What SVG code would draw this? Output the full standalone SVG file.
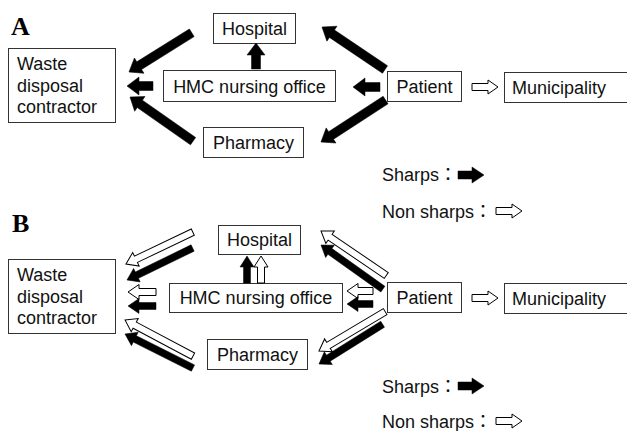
<svg xmlns="http://www.w3.org/2000/svg" width="627" height="431" viewBox="0 0 627 431">
<style>
.box{fill:#fff;stroke:#333;stroke-width:1}
.t{font-family:"Liberation Sans",Arial,"Noto Sans CJK JP",sans-serif;font-size:18px;fill:#111}
.c{text-anchor:middle}
.big{font-family:"Liberation Serif","Times New Roman",serif;font-weight:bold;font-size:26px;fill:#000}
.blk{fill:#000;stroke:#000;stroke-width:0.5}
.hol{fill:#fff;stroke:#000;stroke-width:1}
</style>
<text class="big" x="11" y="35">A</text>
<text class="big" x="12" y="232">B</text>

<g id="waste-A"><rect class="box" x="8.5" y="48.5" width="107" height="74"/><text class="t" x="17" y="70">Waste</text><text class="t" x="17" y="92">disposal</text><text class="t" x="17" y="113">contractor</text></g>
<g id="hospital-A"><rect class="box" x="213.5" y="13.5" width="82" height="30"/><text class="t c" x="254.5" y="35">Hospital</text></g>
<g id="hmc-A"><rect class="box" x="163.5" y="70.5" width="172" height="31"/><text class="t c" x="249.5" y="93">HMC nursing office</text></g>
<g id="pharmacy-A"><rect class="box" x="203.5" y="127.5" width="100" height="30"/><text class="t c" x="253.5" y="149">Pharmacy</text></g>
<g id="patient-A"><rect class="box" x="387.5" y="71.5" width="74" height="30"/><text class="t c" x="424.5" y="93">Patient</text></g>
<g id="municipality-A"><rect class="box" x="504.5" y="72.5" width="140" height="30"/><text class="t" x="512" y="94">Municipality</text></g>
<g id="legend-A"><text class="t" x="382" y="181">Sharps：</text><text class="t" x="382" y="218">Non sharps：</text></g>

<g id="waste-B"><rect class="box" x="8.5" y="259.5" width="107" height="74"/><text class="t" x="17" y="281">Waste</text><text class="t" x="17" y="303">disposal</text><text class="t" x="17" y="324">contractor</text></g>
<g id="hospital-B"><rect class="box" x="218.5" y="225.5" width="82" height="29"/><text class="t c" x="259.5" y="246">Hospital</text></g>
<g id="hmc-B"><rect class="box" x="169.5" y="283.5" width="173" height="29"/><text class="t c" x="256" y="304">HMC nursing office</text></g>
<g id="pharmacy-B"><rect class="box" x="207.5" y="339.5" width="100" height="30"/><text class="t c" x="257.5" y="361">Pharmacy</text></g>
<g id="patient-B"><rect class="box" x="387.5" y="282.5" width="74" height="30"/><text class="t c" x="424.5" y="304">Patient</text></g>
<g id="municipality-B"><rect class="box" x="504.5" y="283.5" width="140" height="30"/><text class="t" x="512" y="305">Municipality</text></g>
<g id="legend-B"><text class="t" x="382" y="393">Sharps：</text><text class="t" x="382" y="428">Non sharps：</text></g>

<g id="connectors">
<!-- A -->
<path class="blk" transform="translate(129,72) rotate(-32)" d="M0,0 L12,-9 L12,-4.5 L74,-4.5 L74,4.5 L12,4.5 L12,9 Z"/>
<path class="blk" transform="translate(127,86)" d="M0,0 L12,-9 L12,-4.5 L26,-4.5 L26,4.5 L12,4.5 L12,9 Z"/>
<path class="blk" transform="translate(130,97) rotate(35)" d="M0,0 L12,-9 L12,-4.5 L77,-4.5 L77,4.5 L12,4.5 L12,9 Z"/>
<path class="blk" transform="translate(256,43) rotate(90)" d="M0,0 L12,-9 L12,-4.5 L26,-4.5 L26,4.5 L12,4.5 L12,9 Z"/>
<path class="blk" transform="translate(322,27) rotate(34)" d="M0,0 L12,-9 L12,-4.5 L76,-4.5 L76,4.5 L12,4.5 L12,9 Z"/>
<path class="blk" transform="translate(353,87)" d="M0,0 L12,-9 L12,-4.5 L27,-4.5 L27,4.5 L12,4.5 L12,9 Z"/>
<path class="blk" transform="translate(321,142) rotate(-33)" d="M0,0 L12,-9 L12,-4.5 L77,-4.5 L77,4.5 L12,4.5 L12,9 Z"/>
<path class="hol" transform="translate(498,87) rotate(180)" d="M0,0 L10,-7 L10,-3.5 L26,-3.5 L26,3.5 L10,3.5 L10,7 Z"/>
<path class="blk" transform="translate(484,175) rotate(180)" d="M0,0 L12,-8 L12,-4 L26,-4 L26,4 L12,4 L12,8 Z"/>
<path class="hol" transform="translate(522,211) rotate(180)" d="M0,0 L10,-7 L10,-3.5 L26,-3.5 L26,3.5 L10,3.5 L10,7 Z"/>
<!-- B -->
<path class="hol" transform="translate(126,264) rotate(-25.5)" d="M0,0 L11,-7.5 L11,-3.5 L74,-3.5 L74,3.5 L11,3.5 L11,7.5 Z"/>
<path class="blk" transform="translate(127,280) rotate(-26)" d="M0,0 L11,-7.5 L11,-3.5 L73,-3.5 L73,3.5 L11,3.5 L11,7.5 Z"/>
<path class="hol" transform="translate(128,292)" d="M0,0 L11,-7.5 L11,-3.5 L28,-3.5 L28,3.5 L11,3.5 L11,7.5 Z"/>
<path class="blk" transform="translate(128,306)" d="M0,0 L11,-7.5 L11,-3.5 L28,-3.5 L28,3.5 L11,3.5 L11,7.5 Z"/>
<path class="hol" transform="translate(125,320) rotate(28)" d="M0,0 L11,-7.5 L11,-3.5 L77,-3.5 L77,3.5 L11,3.5 L11,7.5 Z"/>
<path class="blk" transform="translate(125,334) rotate(26.6)" d="M0,0 L11,-7.5 L11,-3.5 L76,-3.5 L76,3.5 L11,3.5 L11,7.5 Z"/>
<path class="blk" transform="translate(247,256) rotate(90)" d="M0,0 L11,-7 L11,-3.5 L27,-3.5 L27,3.5 L11,3.5 L11,7 Z"/>
<path class="hol" transform="translate(261,256) rotate(90)" d="M0,0 L11,-7 L11,-3.5 L27,-3.5 L27,3.5 L11,3.5 L11,7 Z"/>
<path class="hol" transform="translate(321,231) rotate(34.3)" d="M0,0 L11,-7.5 L11,-3.5 L79,-3.5 L79,3.5 L11,3.5 L11,7.5 Z"/>
<path class="blk" transform="translate(321,245) rotate(35.5)" d="M0,0 L11,-7.5 L11,-3.5 L76,-3.5 L76,3.5 L11,3.5 L11,7.5 Z"/>
<path class="hol" transform="translate(347,291)" d="M0,0 L11,-7.5 L11,-3.5 L26,-3.5 L26,3.5 L11,3.5 L11,7.5 Z"/>
<path class="blk" transform="translate(347,304)" d="M0,0 L11,-7.5 L11,-3.5 L26,-3.5 L26,3.5 L11,3.5 L11,7.5 Z"/>
<path class="hol" transform="translate(319,351) rotate(-30.8)" d="M0,0 L11,-7.5 L11,-3.5 L77,-3.5 L77,3.5 L11,3.5 L11,7.5 Z"/>
<path class="blk" transform="translate(319,364) rotate(-32)" d="M0,0 L11,-7.5 L11,-3.5 L75,-3.5 L75,3.5 L11,3.5 L11,7.5 Z"/>
<path class="hol" transform="translate(498,298) rotate(180)" d="M0,0 L10,-7 L10,-3.5 L26,-3.5 L26,3.5 L10,3.5 L10,7 Z"/>
<path class="blk" transform="translate(484,386) rotate(180)" d="M0,0 L12,-8 L12,-4 L26,-4 L26,4 L12,4 L12,8 Z"/>
<path class="hol" transform="translate(522,421) rotate(180)" d="M0,0 L10,-7 L10,-3.5 L26,-3.5 L26,3.5 L10,3.5 L10,7 Z"/>
</g>
</svg>
